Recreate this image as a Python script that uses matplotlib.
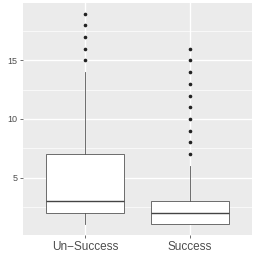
import matplotlib
matplotlib.use("Agg")
import matplotlib.pyplot as plt

# values
groups = ["Un\u2212Success", "Success"]
whislo = [1, 1]
q1 = [2, 1]
med = [3, 2]
q3 = [7, 3]
whishi = [14, 6]
fliers = [[15, 16, 17, 18, 19],
          [7, 8, 9, 10, 11, 12, 13, 14, 15, 16]]
yticks = [5, 10, 15]


def main():
    fig = plt.figure(figsize=(2.56, 2.56), dpi=100)
    ax = fig.add_axes([23 / 256, 21 / 256, 229 / 256, 232 / 256])
    ax.set_facecolor("#EBEBEB")

    stats = []
    for i in range(len(groups)):
        stats.append(dict(whislo=whislo[i], q1=q1[i], med=med[i], q3=q3[i],
                          whishi=whishi[i], fliers=fliers[i], label=groups[i]))

    line = dict(color="#555555", linewidth=0.6)
    ax.bxp(stats, positions=[1, 2], widths=0.75, patch_artist=True,
           boxprops=dict(facecolor="white", edgecolor="#555555", linewidth=0.6),
           medianprops=dict(color="#444444", linewidth=1.0),
           whiskerprops=line, capprops=dict(linewidth=0),
           flierprops=dict(marker="o", markersize=1.6, markerfacecolor="#222222",
                           markeredgecolor="#222222", linestyle="none"),
           zorder=3)

    ax.set_xlim(0.4, 2.6)
    ax.set_ylim(0.1, 19.9)
    ax.set_yticks(yticks)
    ax.set_yticks([2.5, 7.5, 12.5, 17.5], minor=True)
    ax.grid(True, which="major", color="white", linewidth=1.0, zorder=0)
    ax.grid(True, which="minor", axis="y", color="white", linewidth=0.5, zorder=0)
    ax.set_axisbelow(True)
    for s in ax.spines.values():
        s.set_visible(False)

    ax.tick_params(axis="y", which="major", length=2.5, width=0.5, color="#333333",
                   labelsize=6.5, labelcolor="#4D4D4D", pad=1.5)
    ax.tick_params(axis="x", which="major", length=2.5, width=0.5, color="#333333",
                   labelsize=8.5, labelcolor="#4D4D4D", pad=1.5)
    ax.tick_params(which="minor", length=0)
    ax.set_xticks([1, 2])
    ax.set_xticklabels(groups, family=["Liberation Sans", "DejaVu Sans"])
    for t in ax.get_yticklabels():
        t.set_family(["Liberation Sans", "DejaVu Sans"])

    fig.savefig("out.png", dpi=100)


if __name__ == "__main__":
    main()
